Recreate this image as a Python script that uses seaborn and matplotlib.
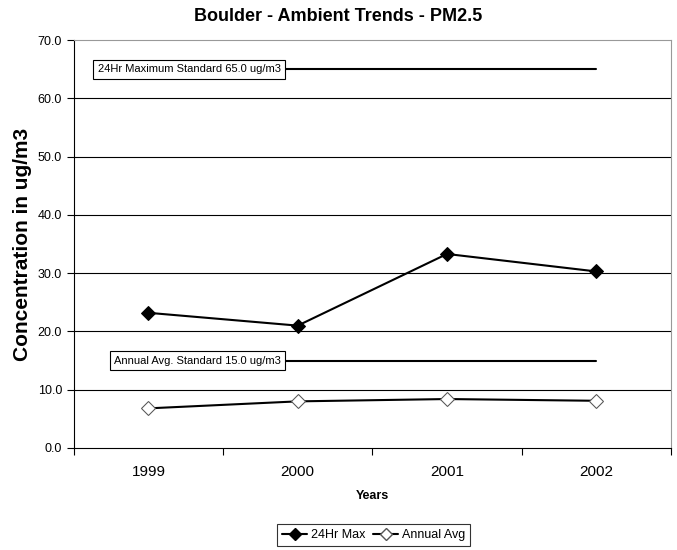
import pandas as pd
import seaborn as sns
import matplotlib
matplotlib.use('Agg')
from matplotlib import pyplot as plt
from matplotlib import font_manager

# Daten
years = ['1999', '2000', '2001', '2002']
max_24hr = [23.2, 21.0, 33.3, 30.3]
annual_avg = [6.8, 8.0, 8.4, 8.1]
standards = [65.0, 15.0]
standard_labels = ['24Hr Maximum Standard 65.0 ug/m3', 'Annual Avg. Standard 15.0 ug/m3']
y_ticks = [0, 10, 20, 30, 40, 50, 60, 70]

sns.set_theme(style='white')
names = [f.name for f in font_manager.fontManager.ttflist]
narrow = 'Liberation Sans Narrow' if 'Liberation Sans Narrow' in names else 'Liberation Sans'
plt.rcParams['font.family'] = ['Liberation Sans', 'DejaVu Sans']
for key in ['text.color', 'axes.labelcolor', 'xtick.color', 'ytick.color']:
    plt.rcParams[key] = 'black'

pos = list(range(len(years)))
df = pd.DataFrame({'pos': pos, 'max': max_24hr, 'avg': annual_avg})

fig = plt.figure(figsize=(6.77, 5.5), dpi=100)
ax = fig.add_axes([0.109, 0.1855, 0.882, 0.7415])

# Gitterlinien
for v in y_ticks[1:-1]:
    ax.axhline(v, color='black', lw=0.8, zorder=0)

# Standardlinien mit Beschriftung
for val, lab, xlab in zip(standards, standard_labels, [-0.34, -0.23]):
    sns.lineplot(x=[pos[0], pos[-1]], y=[val, val], color='black', lw=1.5, ax=ax)
    ax.text(xlab, val, lab, fontsize=8, family=narrow, ha='left', va='center', zorder=5,
            bbox=dict(boxstyle='square,pad=0.4', fc='white', ec='black', lw=0.8))

sns.lineplot(data=df, x='pos', y='max', color='black', lw=1.5, marker='D',
             markersize=7, markerfacecolor='black', markeredgecolor='black', ax=ax, zorder=4)
sns.lineplot(data=df, x='pos', y='avg', color='black', lw=1.5, marker='D',
             markersize=7, markerfacecolor='white', markeredgecolor='#555555', ax=ax, zorder=4)

ax.set_xlim(-0.5, len(years) - 0.5)
ax.set_ylim(0, 70)
ax.set_yticks(y_ticks)
ax.set_yticklabels([f'{v:.1f}' for v in y_ticks], fontsize=9, family=narrow)
ax.set_xticks(pos)
ax.set_xticklabels(years, fontsize=11)
ax.set_xticks([p + 0.5 for p in pos[:-1]] + [-0.5, len(years) - 0.5], minor=True)
ax.tick_params(axis='x', which='major', length=0, pad=12)
ax.tick_params(axis='x', which='minor', length=5, width=0.8, color='black', direction='out', bottom=True)
ax.tick_params(axis='y', length=5, width=0.8, color='black', direction='out', left=True)

for side in ['left', 'bottom']:
    ax.spines[side].set_color('black')
    ax.spines[side].set_linewidth(0.8)
for side in ['top', 'right']:
    ax.spines[side].set_color('#999999')
    ax.spines[side].set_linewidth(0.8)

ax.set_xlabel('Years', fontsize=9, fontweight='bold', labelpad=8)
ax.set_ylabel('Concentration in ug/m3', fontsize=15, fontweight='bold', labelpad=4)
fig.suptitle('Boulder - Ambient Trends - PM2.5', fontsize=13, fontweight='bold', y=0.985)

h1 = plt.Line2D([], [], color='black', lw=1.5, marker='D', markersize=6, markerfacecolor='black')
h2 = plt.Line2D([], [], color='black', lw=1.5, marker='D', markersize=6,
                markerfacecolor='white', markeredgecolor='#555555')
leg = fig.legend([h1, h2], ['24Hr Max', 'Annual Avg'], loc='center', bbox_to_anchor=(0.552, 0.027),
                 ncol=2, fontsize=9, frameon=True, fancybox=False, handlelength=2.0,
                 handletextpad=0.3, columnspacing=0.6, borderpad=0.4)
leg.get_frame().set_edgecolor('black')
leg.get_frame().set_linewidth(0.8)
for t in leg.get_texts():
    t.set_family(narrow)

fig.savefig('out.png', dpi=100)
